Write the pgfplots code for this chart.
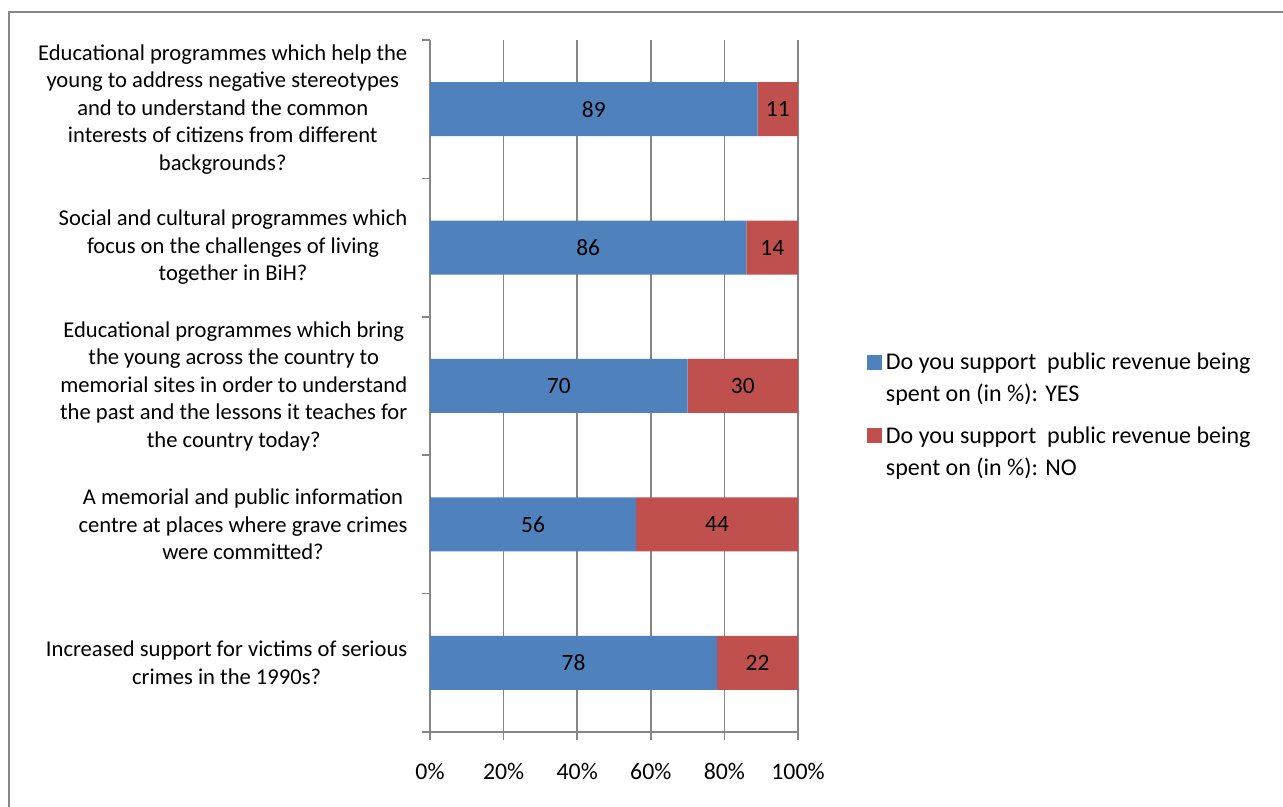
\documentclass[border=0pt]{standalone}
\usepackage{pgfplots}
\pgfplotsset{compat=1.18}
\usepackage{pgfplotstable}
\usepackage{fontspec}
\setmainfont{Carlito}
\definecolor{yesblue}{HTML}{4F81BD}
\definecolor{nored}{HTML}{C0504D}
\definecolor{gridgray}{HTML}{868686}
\pgfplotstableread{
idx yes no
4 89 11
3 86 14
2 70 30
1 56 44
0 78 22
}\datatable
\begin{document}
\begin{tikzpicture}
\useasboundingbox (0,0) rectangle (641.5pt,403.5pt);
\draw[gridgray, line width=1pt] (4.5pt,0) -- (4.5pt,397.5pt) -- (641.5pt,397.5pt);
\begin{axis}[
  at={(215pt,37.5pt)}, anchor=south west,
  x=1.84pt, y=69.2pt,
  xmin=0, xmax=100, ymin=-0.5, ymax=4.5,
  xbar stacked, bar width=27pt,
  axis x line*=bottom, axis y line*=left,
  axis line style={gridgray, line width=0.75pt},
  tick align=outside,
  major tick length=4pt,
  tick style={gridgray, line width=0.75pt},
  xmajorgrids, grid style={gridgray, line width=0.75pt},
  xtick={0,20,...,100},
  xticklabels={0\%,20\%,40\%,60\%,80\%,100\%},
  xticklabel style={yshift=-8pt, font=\fontsize{11.9}{14}\selectfont},
  ytick={-0.5,0.5,...,4.5},
  yticklabels={
    {Increased support for victims of serious\\crimes in the 1990s?},
    {A memorial and public information\\centre at places where grave crimes\\were committed?},
    {Educational programmes which bring\\the young across the country to\\memorial sites in order to understand\\the past and the lessons it teaches for\\the country today?},
    {Social and cultural programmes which\\focus on the challenges of living\\together in BiH?},
    {Educational programmes which help the\\young to address negative stereotypes\\and to understand the common\\interests of citizens from different\\backgrounds?},
    {}},
  yticklabel style={align=center, yshift=34.6pt, xshift=-3.8pt, font=\fontsize{11.3}{13.75}\selectfont},
  /pgf/number format/assume math mode=true,
  point meta=explicit,
  nodes near coords={\pgfmathprintnumber{\pgfplotspointmeta}},
  every node near coord/.append style={anchor=center, black, font=\fontsize{11.7}{14}\selectfont},
  legend style={draw=none, at={(axis description cs:1.17,0.56)}, anchor=north west,
    cells={anchor=base west}, row sep=23pt,
    font=\fontsize{12}{16}\selectfont},
  legend image code/.code={\path[#1, draw=none] (0pt,0pt) rectangle (7.5pt,7.5pt);},
]
\addplot[fill=yesblue, draw=none] table[x=yes, y=idx, meta=yes] {\datatable};
\addplot[fill=nored, draw=none] table[x=no, y=idx, meta=no] {\datatable};
\legend{{\parbox[t]{200pt}{\fontsize{12}{16}\selectfont\raggedright Do you support\ \ public revenue being\\spent on (in \%): YES}},
        {\parbox[t]{200pt}{\fontsize{12}{16}\selectfont\raggedright Do you support\ \ public revenue being\\spent on (in \%): NO}}}
\end{axis}
\end{tikzpicture}
\end{document}
